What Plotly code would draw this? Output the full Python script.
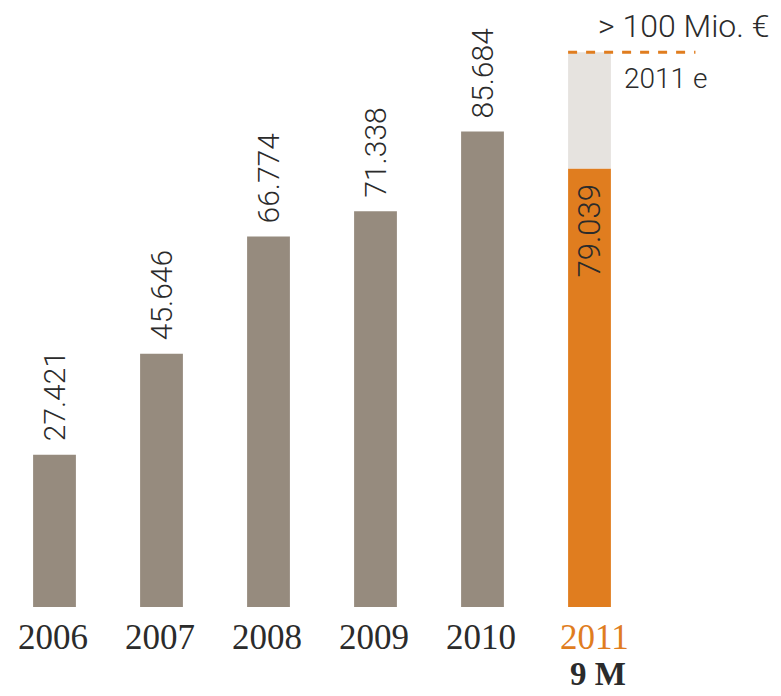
import plotly.graph_objects as go

years = ["2006", "2007", "2008", "2009", "2010", "2011"]
values = [27.421, 45.646, 66.774, 71.338, 85.684, 79.039]
labels = ["27.421", "45.646", "66.774", "71.338", "85.684", "79.039"]
estimate_2011 = 100.0
estimate_text = "> 100 Mio. \u20ac"
estimate_label = "2011 e"
period_label = "9 M"

GREY = "#968b7e"
LIGHT = "#e6e3df"
ORANGE = "#e07d1f"
TEXT = "#2b2b2b"
NUM_FONT = "Roboto"

x_idx = list(range(len(years)))
last = x_idx[-1]

fig = go.Figure()

fig.add_trace(go.Bar(
    x=x_idx[:-1], y=values[:-1], width=0.4,
    marker=dict(color=GREY, line=dict(width=0)), hoverinfo="skip",
))
fig.add_trace(go.Bar(
    x=[last], y=[values[-1]], width=0.4,
    marker=dict(color=ORANGE, line=dict(width=0)), hoverinfo="skip",
))
fig.add_trace(go.Bar(
    x=[last], y=[estimate_2011 - values[-1]], base=[values[-1]], width=0.4,
    marker=dict(color=LIGHT, line=dict(width=0)), hoverinfo="skip",
))

# value labels (rotated)
for i in x_idx[:-1]:
    fig.add_annotation(x=i, y=values[i], xref="x", yref="y", text=labels[i],
                       showarrow=False, textangle=-90, xanchor="center", yanchor="bottom",
                       yshift=11, font=dict(family=NUM_FONT, size=30, color=TEXT, weight=300))
fig.add_annotation(x=last, y=values[-1], xref="x", yref="y", text=labels[-1],
                   showarrow=False, textangle=-90, xanchor="center", yanchor="top",
                   yshift=-14, font=dict(family=NUM_FONT, size=31, color=TEXT, weight=300))

# dashed estimate line
fig.add_shape(type="line", xref="x", yref="y",
              x0=last - 0.2, x1=last + 0.99,
              y0=estimate_2011, y1=estimate_2011,
              line=dict(color=ORANGE, width=3, dash="dash"))

fig.add_annotation(x=last + 0.06, y=estimate_2011, xref="x", yref="y",
                   text=estimate_text, showarrow=False, xanchor="left", yanchor="bottom",
                   yshift=5, font=dict(family=NUM_FONT, size=32, color=TEXT, weight=300))
fig.add_annotation(x=last + 0.3, y=estimate_2011, xref="x", yref="y",
                   text=estimate_label, showarrow=False, xanchor="left", yanchor="top",
                   yshift=-8, font=dict(family=NUM_FONT, size=28, color=TEXT, weight=300))

# year labels
for i, yr in enumerate(years):
    col = ORANGE if i == last else TEXT
    fig.add_annotation(x=i, y=0, xref="x", yref="y", text=yr, showarrow=False,
                       xanchor="center", yanchor="top", yshift=-9,
                       xshift=5 if i == last else -2,
                       font=dict(family="Liberation Serif", size=35, color=col))
fig.add_annotation(x=last, y=0, xref="x", yref="y", text="<b>" + period_label + "</b>",
                   showarrow=False, xanchor="center", yanchor="top", yshift=-48, xshift=8,
                   borderpad=0,
                   font=dict(family="Liberation Serif", size=33, color=TEXT))

fig.update_layout(
    width=781, height=696,
    margin=dict(l=1, r=31, t=0, b=89),
    paper_bgcolor="white", plot_bgcolor="white",
    barmode="overlay", showlegend=False,
    xaxis=dict(range=[-0.5, 6.5], showticklabels=False, showgrid=False,
               zeroline=False, showline=False, ticks="", fixedrange=True),
    yaxis=dict(range=[0, 109.4], showticklabels=False, showgrid=False,
               zeroline=False, showline=False, ticks="", fixedrange=True),
)

fig.write_html("out.html", config={"displayModeBar": False},
               post_script="document.body.style.margin='0';document.body.style.overflow='hidden';")
